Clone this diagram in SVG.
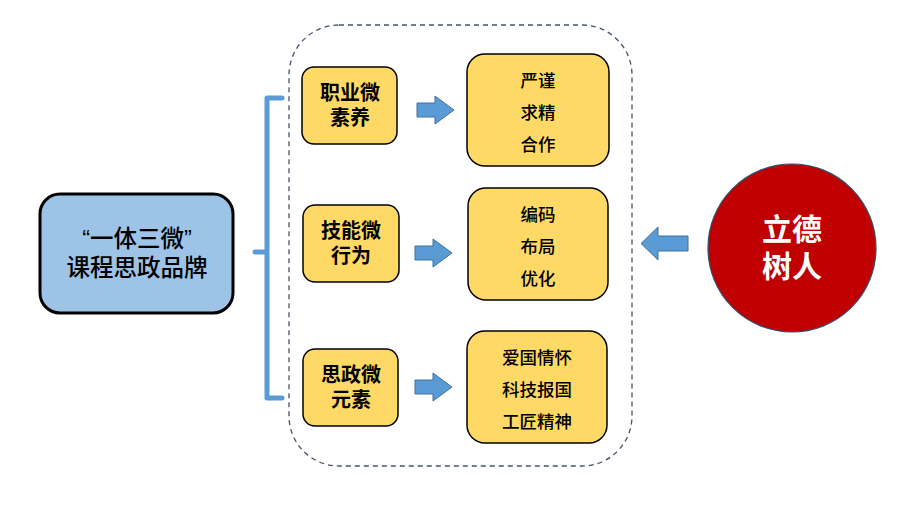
<svg xmlns="http://www.w3.org/2000/svg" width="923" height="506" viewBox="0 0 923 506">
<defs>
<style>
.t{font-family:"Liberation Sans","Noto Sans CJK SC",sans-serif;text-anchor:middle;fill:#000}
.sm{fill:#FFD966;stroke:#000;stroke-width:1.5}
.st{font-size:20px;font-weight:bold}
.bt{font-size:17.5px;font-weight:500}
.arr{fill:#5B9BD5;stroke:#41719C;stroke-width:1}
</style>
</defs>
<rect width="923" height="506" fill="#fff"/>
<g id="main">
<rect x="40" y="194" width="193" height="119" rx="20" fill="#9DC3E6" stroke="#000" stroke-width="3"/>
<text class="t" x="137" y="247" font-size="23.5" font-weight="500">“一体三微”</text>
<text class="t" x="137" y="276" font-size="23.5" font-weight="500">课程思政品牌</text>
</g>
<g id="container">
<rect x="289" y="25" width="343" height="441" rx="50" fill="none" stroke="#44546A" stroke-width="1.3" stroke-dasharray="5,4"/>
</g>
<g id="connectors">
<path d="M282,98 H267 V398 H282 M267,252 H255" fill="none" stroke="#5B9BD5" stroke-width="5" stroke-linecap="round" stroke-linejoin="round"/>
<path class="arr" d="M417,103 H435 V96 L454,110 L435,124 V117 H417 Z"/>
<path class="arr" d="M415,246 H433 V239 L452,253 L433,267 V260 H415 Z"/>
<path class="arr" d="M415,380 H433 V373 L452,387 L433,401 V394 H415 Z"/>
<path class="arr" d="M688,236 H658 V227 L641,243.5 L658,260 V251 H688 Z"/>
</g>
<g id="n1">
<rect class="sm" x="302" y="67" width="95" height="77" rx="12"/>
<text class="t st" x="350" y="100">职业微</text>
<text class="t st" x="350" y="125">素养</text>
</g>
<g id="n2">
<rect class="sm" x="303" y="205" width="96" height="77" rx="12"/>
<text class="t st" x="351" y="238">技能微</text>
<text class="t st" x="351" y="263">行为</text>
</g>
<g id="n3">
<rect class="sm" x="303" y="349" width="95" height="77" rx="12"/>
<text class="t st" x="351" y="382">思政微</text>
<text class="t st" x="351" y="407">元素</text>
</g>
<g id="b1">
<rect class="sm" x="467" y="54" width="142" height="112" rx="18"/>
<text class="t bt" x="538" y="87">严谨</text>
<text class="t bt" x="538" y="119">求精</text>
<text class="t bt" x="538" y="151">合作</text>
</g>
<g id="b2">
<rect class="sm" x="468" y="188" width="140" height="112" rx="18"/>
<text class="t bt" x="538" y="221">编码</text>
<text class="t bt" x="538" y="253">布局</text>
<text class="t bt" x="538" y="285">优化</text>
</g>
<g id="b3">
<rect class="sm" x="467" y="331" width="140" height="112" rx="18"/>
<text class="t bt" x="537" y="364">爱国情怀</text>
<text class="t bt" x="537" y="396">科技报国</text>
<text class="t bt" x="537" y="428">工匠精神</text>
</g>
<g id="goal">
<circle cx="792" cy="248" r="84" fill="#C00000" stroke="#2F4F6F" stroke-width="1.2"/>
<text class="t" x="792" y="240" font-size="30" font-weight="bold" style="fill:#fff">立德</text>
<text class="t" x="792" y="277" font-size="30" font-weight="bold" style="fill:#fff">树人</text>
</g>
</svg>
